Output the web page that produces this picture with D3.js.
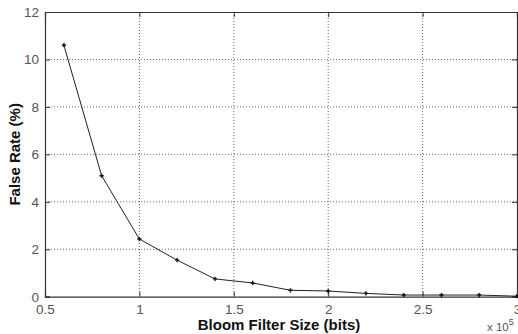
<!DOCTYPE html>
<html><head><meta charset="utf-8">
<script src="https://cdn.jsdelivr.net/npm/d3@7"></script>
<style>body{margin:0;background:#fff;} svg{display:block;}</style>
</head><body>
<svg id="c" width="518" height="334"></svg>
<script>
const sizes = [0.6, 0.8, 1.0, 1.2, 1.4, 1.6, 1.8, 2.0, 2.2, 2.4, 2.6, 2.8, 3.0];
const falseRate = [10.6, 5.1, 2.43, 1.54, 0.75, 0.58, 0.27, 0.24, 0.14, 0.07, 0.07, 0.07, 0.02];
const xTicks = [0.5, 1, 1.5, 2, 2.5, 3];
const yTicks = [0, 2, 4, 6, 8, 10, 12];

const svg = d3.select("#c");
const L = 45, R = 517, T = 12, B = 296.7;
const x = d3.scaleLinear().domain([0.5, 3]).range([L, R]);
const y = d3.scaleLinear().domain([0, 12]).range([B, T]);
const tickColor = "#555";
const font = "Liberation Sans, Arial, sans-serif";

// grid
const g = svg.append("g");
g.selectAll(".vg").data(xTicks.slice(1, -1)).enter().append("line")
  .attr("x1", d => x(d)).attr("x2", d => x(d)).attr("y1", T).attr("y2", B)
  .attr("stroke", "#444").attr("stroke-width", 0.8).attr("stroke-dasharray", "1,2");
g.selectAll(".hg").data(yTicks.slice(1, -1)).enter().append("line")
  .attr("y1", d => y(d)).attr("y2", d => y(d)).attr("x1", L).attr("x2", R)
  .attr("stroke", "#444").attr("stroke-width", 0.8).attr("stroke-dasharray", "1,2");

// axes
const xAxis = d3.axisBottom(x).tickValues(xTicks).tickSize(-5).tickPadding(8).tickFormat(d3.format("~g"));
const yAxis = d3.axisLeft(y).tickValues(yTicks).tickSize(-5).tickPadding(6).tickFormat(d3.format("~g"));
const xa = svg.append("g").attr("transform", `translate(0,${B})`).call(xAxis);
const ya = svg.append("g").attr("transform", `translate(${L},0)`).call(yAxis);
const xt = svg.append("g").attr("transform", `translate(0,${T})`).call(d3.axisTop(x).tickValues(xTicks).tickSize(-5).tickFormat(""));
const yr = svg.append("g").attr("transform", `translate(${R},0)`).call(d3.axisRight(y).tickValues(yTicks).tickSize(-5).tickFormat(""));
[xa, ya, xt, yr].forEach(a => {
  a.selectAll("path").attr("stroke", "#333").attr("stroke-width", 1.2);
  a.selectAll("line").attr("stroke", "#333");
  a.selectAll("text").attr("fill", tickColor).attr("font-family", font).attr("font-size", 13.5);
});

// line
svg.append("path").datum(sizes.map((s, i) => [s, falseRate[i]]))
  .attr("fill", "none").attr("stroke", "#222").attr("stroke-width", 1)
  .attr("d", d3.line().x(d => x(d[0])).y(d => y(d[1])));
svg.selectAll(".pt").data(sizes.map((s, i) => [s, falseRate[i]])).enter().append("path")
  .attr("d", d3.symbol().type(d3.symbolCross).size(10))
  .attr("transform", d => `translate(${x(d[0])},${y(d[1])})`)
  .attr("fill", "#111");

// labels
svg.append("text").attr("x", (L + R) / 2 - 2).attr("y", 330).attr("text-anchor", "middle")
  .attr("font-family", font).attr("font-weight", "bold").attr("font-size", 15).attr("fill", "#111")
  .text("Bloom Filter Size (bits)");
svg.append("text").attr("transform", `translate(20,${(T + B) / 2}) rotate(-90)`).attr("text-anchor", "middle")
  .attr("font-family", font).attr("font-weight", "bold").attr("font-size", 15).attr("fill", "#111")
  .text("False Rate (%)");
const ex = svg.append("text").attr("x", 487).attr("y", 331).attr("font-family", font)
  .attr("font-size", 11.5).attr("fill", tickColor);
ex.append("tspan").text("x 10");
ex.append("tspan").attr("dy", -6).attr("font-size", 9).text("5");
</script>
</body></html>
